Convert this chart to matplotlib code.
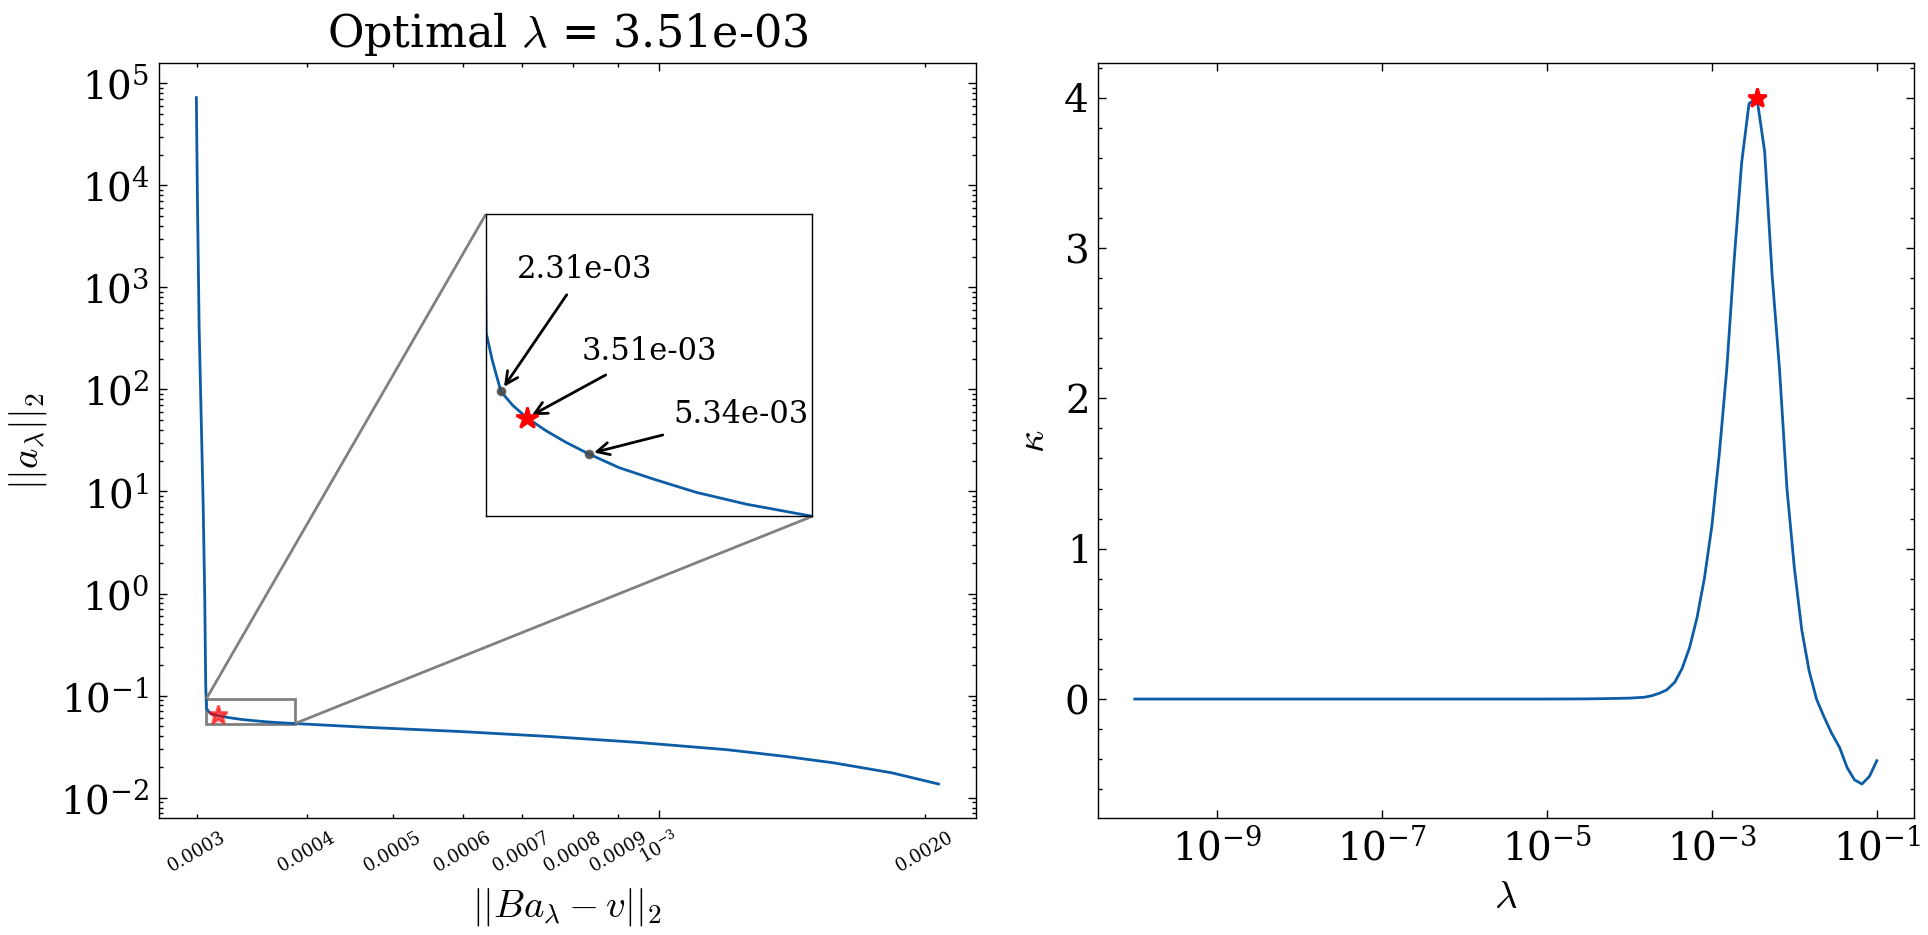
import numpy as np
import matplotlib
matplotlib.use("Agg")
import matplotlib.pyplot as plt
from matplotlib.ticker import FormatStrFormatter, NullLocator, MultipleLocator
from mpl_toolkits.axes_grid1.inset_locator import mark_inset

plt.rcParams.update({
    'font.family': 'serif',
    'font.serif': ['DejaVu Serif'],
    'mathtext.fontset': 'cm',
    'axes.linewidth': 0.5,
    'xtick.direction': 'in', 'ytick.direction': 'in',
    'xtick.top': True, 'ytick.right': True,
    'xtick.major.size': 3, 'xtick.major.width': 0.5,
    'xtick.minor.size': 1.5, 'xtick.minor.width': 0.5,
    'ytick.major.size': 3, 'ytick.major.width': 0.5,
    'ytick.minor.size': 1.5, 'ytick.minor.width': 0.5,
    'xtick.minor.visible': True, 'ytick.minor.visible': True,
    'lines.linewidth': 1.0,
    'axes.formatter.use_mathtext': True,
})

LINE = '#0C5DA5'

# ---------------- L-curve data (left panel) ----------------
residual = [2.998e-4, 3.006e-4, 3.020e-4, 3.036e-4, 3.052e-4, 3.064e-4, 3.072e-4,
            3.077e-4, 3.078e-4, 3.091e-4, 3.110e-4, 3.136e-4, 3.168e-4, 3.211e-4,
            3.256e-4, 3.309e-4, 3.381e-4, 3.463e-4, 3.571e-4, 3.700e-4, 3.876e-4,
            4.71e-4, 5.94e-4, 7.49e-4, 9.45e-4, 1.193e-3, 1.387e-3, 1.577e-3,
            1.834e-3, 2.071e-3]
sol_norm = [7.23e4, 7.95e3, 391.0, 52.6, 7.06, 0.948, 0.127,
            0.0818, 0.0746, 0.0710, 0.0670, 0.0653, 0.0638, 0.0623,
            0.0610, 0.0597, 0.0582, 0.0570, 0.0556, 0.0544, 0.0532,
            0.0487, 0.0445, 0.0398, 0.0348, 0.0295, 0.0254, 0.0219,
            0.0175, 0.0136]

# highlighted lambdas around the corner
hl_labels = ['2.31e-03', '3.51e-03', '5.34e-03']
hl_residual = [3.110e-4, 3.168e-4, 3.309e-4]
hl_norm = [0.0670, 0.0638, 0.0597]
hl_offsets = [(30, 44), (44, 24), (55, 14)]  # text offsets in points

# zoom window
zoom_x = [3.077e-4, 3.876e-4]
zoom_y = [0.0532, 0.0929]

# ---------------- curvature data (right panel) ----------------
log_lambda = [-10.0, -9.0, -8.0, -7.0, -6.0, -5.0, -4.55, -4.27, -4.0,
              -3.82, -3.73, -3.64, -3.55, -3.45, -3.36, -3.27, -3.18, -3.09,
              -3.0, -2.91, -2.82, -2.73, -2.64, -2.55, -2.4547, -2.36, -2.27, -2.18, -2.09,
              -2.0, -1.91, -1.82, -1.73, -1.64, -1.55, -1.45, -1.36, -1.27, -1.18, -1.09, -1.0]
kappa = [0, 0, 0, 0, 0, 0, 0.001, 0.003, 0.006,
         0.012, 0.022, 0.038, 0.06, 0.112, 0.205, 0.344, 0.542, 0.806,
         1.153, 1.632, 2.193, 2.92, 3.564, 3.96, 4.0, 3.64, 2.821, 2.193, 1.4,
         0.872, 0.459, 0.185, -0.003, -0.119, -0.225, -0.324, -0.456, -0.538, -0.565, -0.515, -0.41]
opt_lambda = 3.51e-3
opt_kappa = 4.0

lam = 10.0 ** np.array(log_lambda)

fig = plt.figure(figsize=(9.64, 4.675), dpi=200)
ax1 = fig.add_axes([0.0826, 0.1248, 0.4234, 0.8075])
ax2 = fig.add_axes([0.5693, 0.1248, 0.4234, 0.8075])

# ---- left panel ----
ax1.loglog(residual, sol_norm, color=LINE)
ax1.plot(hl_residual[1], hl_norm[1], '*', color='red', ms=7, alpha=0.6)
ax1.set_xlabel(r'$||Ba_\lambda - v||_2$', fontsize=14)
ax1.set_ylabel(r'$||a_\lambda||_2$', fontsize=14)
ax1.set_title(r'Optimal $\lambda$ = 3.51e-03', fontsize=16)
ax1.xaxis.set_minor_formatter(FormatStrFormatter('%.4f'))
ax1.tick_params(axis='x', which='both', labelsize=6.5, labelrotation=30)
ax1.tick_params(axis='y', which='both', labelsize=14)

axins = ax1.inset_axes([0.4, 0.4, 0.4, 0.4])
axins.set_xscale('log')
axins.set_yscale('log')
axins.plot(residual, sol_norm, color=LINE)
axins.set_xlim(*zoom_x)
axins.set_ylim(*zoom_y)
for a in (axins.xaxis, axins.yaxis):
    a.set_major_locator(NullLocator())
    a.set_minor_locator(NullLocator())
for i, (lab, r, n, off) in enumerate(zip(hl_labels, hl_residual, hl_norm, hl_offsets)):
    if i == 1:
        axins.plot(r, n, '*', color='red', ms=8, zorder=4)
    else:
        axins.plot(r, n, 'o', color='#474747', ms=2.5, alpha=0.8, zorder=4)
    axins.annotate(lab, xy=(r, n), xytext=off, textcoords='offset points',
                   ha='center', va='center', fontsize=11,
                   arrowprops=dict(arrowstyle='->', color='black', lw=1))
mark_inset(ax1, axins, loc1=2, loc2=4, fc='none', ec='0.5', lw=1)

# ---- right panel ----
ax2.semilogx(lam, kappa, color=LINE)
ax2.plot(opt_lambda, opt_kappa, '*', color='red', ms=7)
ax2.set_xticks([1e-9, 1e-7, 1e-5, 1e-3, 1e-1])
ax2.xaxis.set_minor_locator(NullLocator())
ax2.yaxis.set_major_locator(MultipleLocator(1))
ax2.yaxis.set_minor_locator(MultipleLocator(0.2))
ax2.tick_params(axis='both', which='both', labelsize=14)
ax2.set_xlabel(r'$\lambda$', fontsize=14)
ax2.set_ylabel(r'$\kappa$', fontsize=14)

fig.savefig('out.png', dpi=200)
